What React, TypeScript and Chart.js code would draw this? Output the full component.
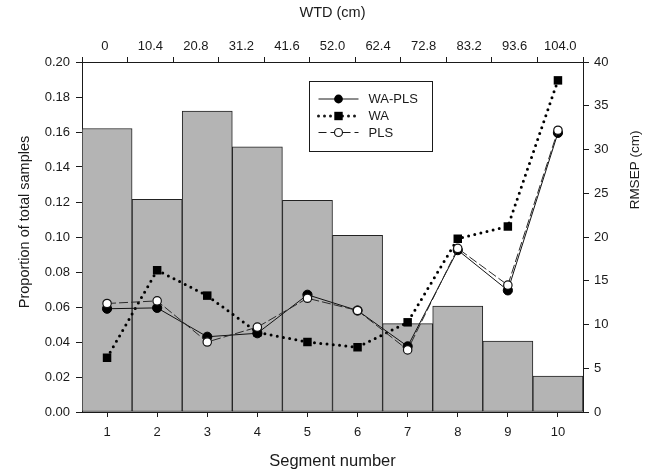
import React, { useEffect, useRef } from 'react';
import { Chart, registerables } from 'chart.js';

Chart.register(...registerables);

const SEGMENTS = ['1', '2', '3', '4', '5', '6', '7', '8', '9', '10'];
const PROPORTION = [0.162, 0.1215, 0.172, 0.1515, 0.121, 0.101, 0.0505, 0.0605, 0.0405, 0.0205];
const RMSEP_WAPLS = [11.8, 11.9, 8.6, 9.0, 13.4, 11.6, 7.5, 18.5, 13.9, 31.9];
const RMSEP_WA = [6.2, 16.2, 13.3, 9.1, 8.0, 7.4, 10.25, 19.8, 21.2, 37.9];
const RMSEP_PLS = [12.4, 12.7, 8.0, 9.7, 13.0, 11.6, 7.1, 18.7, 14.5, 32.2];
const LEFT_TICKS = [0, 0.02, 0.04, 0.06, 0.08, 0.1, 0.12, 0.14, 0.16, 0.18, 0.2];
const RIGHT_TICKS = [0, 5, 10, 15, 20, 25, 30, 35, 40];
const WTD_TICKS = [0, 10.4, 20.8, 31.2, 41.6, 52.0, 62.4, 72.8, 83.2, 93.6, 104.0];
const LEGEND_LABELS = ['WA-PLS', 'WA', 'PLS'];

const FONT = '"Liberation Sans", Arial, Helvetica, sans-serif';
const INK = '#1a1a1a';

const titlesPlugin = {
  id: 'sideTitles',
  afterDraw(chart: any) {
    const { ctx, chartArea } = chart;
    ctx.save();
    ctx.fillStyle = INK;
    ctx.textAlign = 'center';
    ctx.textBaseline = 'middle';
    ctx.font = `14.5px ${FONT}`;
    ctx.save();
    ctx.translate(24.5, chartArea.top + 160);
    ctx.rotate(-Math.PI / 2);
    ctx.fillText('Proportion of total samples', 0, 0);
    ctx.restore();
    ctx.font = `13.5px ${FONT}`;
    ctx.save();
    ctx.translate(chartArea.right + 52.5, chartArea.top + 108);
    ctx.rotate(-Math.PI / 2);
    ctx.fillText('RMSEP (cm)', 0, 0);
    ctx.restore();
    ctx.restore();
  },
};

const legendPlugin = {
  id: 'boxLegend',
  afterDraw(chart: any) {
    const { ctx, chartArea } = chart;
    const x0 = chartArea.left + 227.5;
    const y0 = chartArea.top + 19.5;
    const w = 123;
    const h = 70;
    ctx.save();
    ctx.fillStyle = '#ffffff';
    ctx.fillRect(x0, y0, w, h);
    ctx.strokeStyle = INK;
    ctx.lineWidth = 1;
    ctx.strokeRect(x0, y0, w, h);
    const rows = [y0 + 17.5, y0 + 34.5, y0 + 51];
    const sx1 = x0 + 9;
    const sx2 = x0 + 49;
    const mx = (sx1 + sx2) / 2;
    ctx.font = `13px ${FONT}`;
    ctx.textBaseline = 'middle';
    ctx.textAlign = 'left';
    LEGEND_LABELS.forEach((label, i) => {
      const y = rows[i];
      ctx.save();
      ctx.strokeStyle = INK;
      if (i === 0) {
        ctx.lineWidth = 1;
        ctx.setLineDash([]);
      } else if (i === 1) {
        ctx.lineWidth = 3;
        ctx.lineCap = 'round';
        ctx.setLineDash([0, 6]);
      } else {
        ctx.lineWidth = 1;
        ctx.setLineDash([8, 4]);
      }
      ctx.beginPath();
      ctx.moveTo(sx1, y);
      ctx.lineTo(sx2, y);
      ctx.stroke();
      ctx.restore();
      ctx.save();
      ctx.lineWidth = 1.2;
      ctx.strokeStyle = INK;
      if (i === 0) {
        ctx.fillStyle = '#000';
        ctx.beginPath();
        ctx.arc(mx, y, 4.4, 0, Math.PI * 2);
        ctx.fill();
      } else if (i === 1) {
        ctx.fillStyle = '#000';
        ctx.fillRect(mx - 4.2, y - 4.2, 8.4, 8.4);
      } else {
        ctx.fillStyle = '#fff';
        ctx.beginPath();
        ctx.arc(mx, y, 4, 0, Math.PI * 2);
        ctx.fill();
        ctx.stroke();
      }
      ctx.restore();
      ctx.fillStyle = INK;
      ctx.fillText(label, x0 + 59, y + 0.5);
    });
    ctx.restore();
  },
};

export default function App() {
  const canvasRef = useRef<HTMLCanvasElement | null>(null);

  useEffect(() => {
    if (!canvasRef.current) return;
    Chart.defaults.font.family = FONT;
    Chart.defaults.color = INK;

    const tickFont = { size: 13, family: FONT };
    const chart = new Chart(canvasRef.current, {
      type: 'bar',
      data: {
        labels: SEGMENTS,
        datasets: [
          {
            type: 'line',
            label: 'PLS',
            data: RMSEP_PLS,
            yAxisID: 'y1',
            xAxisID: 'x',
            borderColor: '#2a2a2a',
            borderWidth: 1,
            borderDash: [9, 3],
            pointRadius: 4.2,
            pointBorderWidth: 1.2,
            pointBackgroundColor: '#ffffff',
            pointBorderColor: '#111',
            pointStyle: 'circle',
            tension: 0,
            fill: false,
            order: 1,
          } as any,
          {
            type: 'line',
            label: 'WA-PLS',
            data: RMSEP_WAPLS,
            yAxisID: 'y1',
            xAxisID: 'x',
            borderColor: '#111',
            borderWidth: 1,
            pointRadius: 4.6,
            pointBorderWidth: 1,
            pointBackgroundColor: '#000',
            pointBorderColor: '#000',
            pointStyle: 'circle',
            tension: 0,
            fill: false,
            order: 2,
          } as any,
          {
            type: 'line',
            label: 'WA',
            data: RMSEP_WA,
            yAxisID: 'y1',
            xAxisID: 'x',
            borderColor: '#000',
            borderWidth: 3,
            borderDash: [0, 6.3],
            borderCapStyle: 'round',
            pointRadius: 6,
            pointBorderWidth: 0,
            pointBackgroundColor: '#000',
            pointBorderColor: '#000',
            pointStyle: 'rect',
            tension: 0,
            fill: false,
            order: 3,
          } as any,
          {
            type: 'bar',
            label: 'Proportion',
            data: PROPORTION,
            yAxisID: 'y',
            xAxisID: 'x',
            backgroundColor: '#b4b4b4',
            borderColor: '#222',
            borderWidth: 1,
            borderSkipped: false,
            categoryPercentage: 1,
            barPercentage: 1,
            order: 10,
          } as any,
        ],
      },
      options: {
        responsive: false,
        animation: false,
        devicePixelRatio: 1,
        layout: { padding: 0 },
        plugins: {
          legend: { display: false },
          tooltip: { enabled: false },
          title: { display: false },
        },
        scales: {
          x: {
            type: 'category',
            position: 'bottom',
            offset: true,
            grid: {
              display: true,
              drawOnChartArea: false,
              drawTicks: true,
              tickLength: 5,
              offset: false,
              color: INK,
            },
            border: { display: true, color: INK, width: 1 },
            ticks: { font: tickFont, color: INK, padding: 8, maxRotation: 0, autoSkip: false },
            title: {
              display: true,
              text: 'Segment number',
              font: { size: 16.5, family: FONT },
              color: INK,
              padding: { top: 0, bottom: 1 },
            },
            afterFit: (s: any) => {
              s.height = 60;
            },
          },
          x2: {
            type: 'linear',
            axis: 'x',
            position: 'top',
            min: 0,
            max: 104,
            grid: {
              display: true,
              drawOnChartArea: false,
              drawTicks: true,
              tickLength: 5,
              color: INK,
            },
            border: { display: true, color: INK, width: 1 },
            afterBuildTicks: (s: any) => {
              s.ticks = WTD_TICKS.map((v) => ({ value: v }));
            },
            ticks: {
              font: tickFont,
              color: INK,
              padding: 3,
              maxRotation: 0,
              autoSkip: false,
              callback: (v: any) => (Number(v) === 0 ? '0' : Number(v).toFixed(1)),
            },
            title: {
              display: true,
              text: 'WTD (cm)',
              font: { size: 14.5, family: FONT },
              color: INK,
              padding: { top: 4.5, bottom: 0 },
            },
            afterFit: (s: any) => {
              s.height = 62;
            },
          },
          y: {
            type: 'linear',
            position: 'left',
            min: 0,
            max: 0.2,
            grid: {
              display: true,
              drawOnChartArea: false,
              drawTicks: true,
              tickLength: 6,
              color: INK,
            },
            border: { display: true, color: INK, width: 1 },
            afterBuildTicks: (s: any) => {
              s.ticks = LEFT_TICKS.map((v) => ({ value: v }));
            },
            ticks: {
              font: tickFont,
              color: INK,
              padding: 6,
              callback: (v: any) => Number(v).toFixed(2),
            },
            afterFit: (s: any) => {
              s.width = 82;
            },
          },
          y1: {
            type: 'linear',
            position: 'right',
            min: 0,
            max: 40,
            grid: {
              display: true,
              drawOnChartArea: false,
              drawTicks: true,
              tickLength: 6,
              color: INK,
            },
            border: { display: true, color: INK, width: 1 },
            afterBuildTicks: (s: any) => {
              s.ticks = RIGHT_TICKS.map((v) => ({ value: v }));
            },
            ticks: {
              font: tickFont,
              color: INK,
              padding: 5,
              callback: (v: any) => String(v),
            },
            afterFit: (s: any) => {
              s.width = 70;
            },
          },
        },
      } as any,
      plugins: [titlesPlugin, legendPlugin],
    });
    return () => chart.destroy();
  }, []);

  return (
    <div style={{ position: 'fixed', left: 0, top: 0, width: 653, height: 472, background: '#fff' }}>
      <canvas ref={canvasRef} width={653} height={472} style={{ display: 'block', width: 653, height: 472 }} />
    </div>
  );
}
